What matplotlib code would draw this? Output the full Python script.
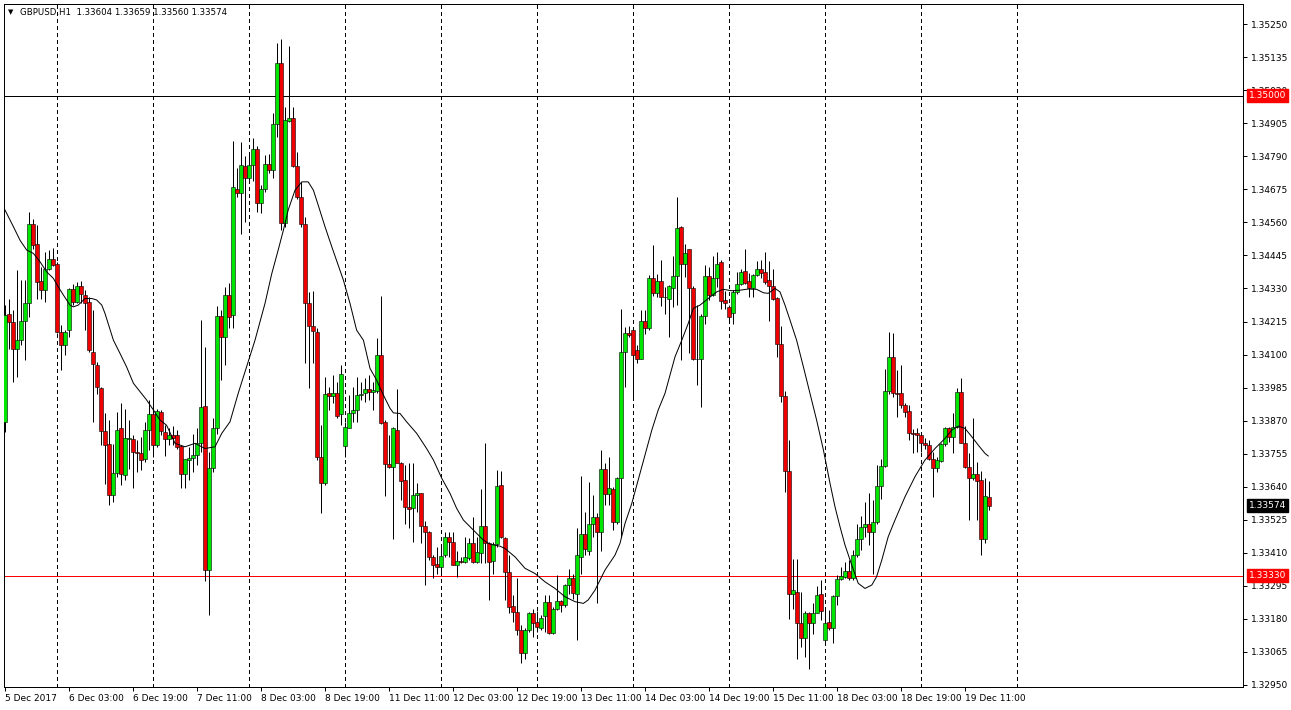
import matplotlib
matplotlib.use('Agg')
import matplotlib.pyplot as plt

# GBPUSD H1 candles (bar 0 = 5 Dec 2017 11:00)
opens = [
    1.33866, 1.34241, 1.34212, 1.34121, 1.34152, 1.34217, 1.34278, 1.34556, 1.34486, 1.34355,
    1.34324, 1.34399, 1.34431, 1.34414, 1.34179, 1.34133, 1.34185, 1.34329, 1.34283, 1.34338,
    1.34307, 1.34283, 1.34109, 1.34063, 1.33985, 1.33835, 1.33790, 1.33611, 1.33688, 1.33843,
    1.33680, 1.33805, 1.33805, 1.33761, 1.33756, 1.33735, 1.33837, 1.33893, 1.33785, 1.33901,
    1.33831, 1.33805, 1.33820, 1.33820, 1.33781, 1.33683, 1.33733, 1.33741, 1.33750, 1.33793,
    1.33920, 1.33350, 1.33704, 1.33843, 1.34234, 1.34160, 1.34307, 1.34237, 1.34675, 1.34661,
    1.34756, 1.34713, 1.34759, 1.34817, 1.34626, 1.34675, 1.34763, 1.34742, 1.34904, 1.35113,
    1.34559, 1.34913, 1.34922, 1.34756, 1.34649, 1.34556, 1.34278, 1.34199, 1.34179, 1.33744,
    1.33654, 1.33965, 1.33956, 1.33965, 1.33893, 1.33783, 1.33846, 1.33898, 1.33907, 1.33959,
    1.33967, 1.33980, 1.33971, 1.33974, 1.34098, 1.33866, 1.33719, 1.33710, 1.33839, 1.33724,
    1.33663, 1.33568, 1.33567, 1.33610, 1.33617, 1.33504, 1.33483, 1.33396, 1.33371, 1.33362,
    1.33402, 1.33466, 1.33449, 1.33369, 1.33380, 1.33379, 1.33391, 1.33445, 1.33379, 1.33410,
    1.33504, 1.33443, 1.33382, 1.33440, 1.33645, 1.33463, 1.33344, 1.33225, 1.33205, 1.33141,
    1.33060, 1.33141, 1.33201, 1.33170, 1.33147, 1.33190, 1.33239, 1.33132, 1.33216, 1.33243,
    1.33228, 1.33297, 1.33321, 1.33268, 1.33396, 1.33477, 1.33417, 1.33510, 1.33535, 1.33483,
    1.33703, 1.33616, 1.33631, 1.33518, 1.33669, 1.34109, 1.34176, 1.34187, 1.34117, 1.34086,
    1.34216, 1.34194, 1.34365, 1.34315, 1.34355, 1.34301, 1.34295, 1.34330, 1.34373, 1.34544,
    1.34415, 1.34466, 1.34333, 1.34086, 1.34083, 1.34234, 1.34373, 1.34307, 1.34365, 1.34423,
    1.34289, 1.34266, 1.34243, 1.34318, 1.34347, 1.34391, 1.34357, 1.34333, 1.34376, 1.34397,
    1.34388, 1.34359, 1.34339, 1.34298, 1.34136, 1.33955, 1.33695, 1.33268, 1.33274, 1.33164,
    1.33115, 1.33201, 1.33164, 1.33201, 1.33268, 1.33106, 1.33170, 1.33150, 1.33260, 1.33318,
    1.33327, 1.33348, 1.33321, 1.33402, 1.33457, 1.33499, 1.33510, 1.33481, 1.33518, 1.33642,
    1.33712, 1.33974, 1.34090, 1.33967, 1.33965, 1.33924, 1.33905, 1.33828, 1.33828, 1.33820,
    1.33793, 1.33785, 1.33735, 1.33704, 1.33730, 1.33789, 1.33843, 1.33812, 1.33847, 1.33971,
    1.33791, 1.33707, 1.33669, 1.33684, 1.33665, 1.33457, 1.33604,
]
highs = [
    1.34272, 1.34295, 1.34254, 1.34394, 1.34359, 1.34359, 1.34597, 1.34573, 1.34550, 1.34405,
    1.34457, 1.34463, 1.34472, 1.34423, 1.34202, 1.34185, 1.34330, 1.34347, 1.34353, 1.34356,
    1.34324, 1.34301, 1.34254, 1.34074, 1.33988, 1.33895, 1.33872, 1.33790, 1.33901, 1.33930,
    1.33912, 1.33872, 1.33819, 1.33802, 1.33814, 1.33866, 1.33941, 1.33982, 1.33912, 1.33906,
    1.33854, 1.33843, 1.33851, 1.33837, 1.33785, 1.33738, 1.33779, 1.33825, 1.33843, 1.34220,
    1.34127, 1.33760, 1.33878, 1.34269, 1.34255, 1.34336, 1.34350, 1.34844, 1.34748, 1.34840,
    1.34791, 1.34802, 1.34852, 1.34825, 1.34690, 1.34794, 1.34798, 1.34939, 1.35185, 1.35197,
    1.34962, 1.35173, 1.34960, 1.34806, 1.34701, 1.34577, 1.34318, 1.34322, 1.34191, 1.33854,
    1.34023, 1.33988, 1.34028, 1.34005, 1.34063, 1.33866, 1.33959, 1.33988, 1.34023, 1.34005,
    1.34017, 1.34029, 1.34005, 1.34156, 1.34304, 1.33872, 1.33820, 1.33849, 1.33979, 1.33727,
    1.33715, 1.33721, 1.33723, 1.33652, 1.33619, 1.33522, 1.33487, 1.33402, 1.33431, 1.33431,
    1.33483, 1.33483, 1.33483, 1.33416, 1.33396, 1.33466, 1.33460, 1.33533, 1.33466, 1.33631,
    1.33793, 1.33449, 1.33449, 1.33698, 1.33695, 1.33466, 1.33402, 1.33263, 1.33321, 1.33158,
    1.33147, 1.33205, 1.33216, 1.33208, 1.33193, 1.33263, 1.33263, 1.33222, 1.33332, 1.33247,
    1.33303, 1.33355, 1.33338, 1.33495, 1.33677, 1.33553, 1.33657, 1.33611, 1.33549, 1.33767,
    1.33721, 1.33742, 1.33640, 1.33674, 1.34260, 1.34196, 1.34199, 1.34191, 1.34133, 1.34254,
    1.34254, 1.34376, 1.34481, 1.34382, 1.34428, 1.34336, 1.34341, 1.34442, 1.34647, 1.34547,
    1.34486, 1.34469, 1.34338, 1.34272, 1.34241, 1.34411, 1.34405, 1.34442, 1.34457, 1.34428,
    1.34322, 1.34272, 1.34324, 1.34388, 1.34396, 1.34466, 1.34384, 1.34382, 1.34426, 1.34428,
    1.34457, 1.34426, 1.34399, 1.34301, 1.34199, 1.33974, 1.33802, 1.33390, 1.33390, 1.33274,
    1.33208, 1.33205, 1.33234, 1.33294, 1.33315, 1.33210, 1.33211, 1.33263, 1.33333, 1.33359,
    1.33379, 1.33385, 1.33420, 1.33512, 1.33538, 1.33588, 1.33619, 1.33594, 1.33715, 1.33735,
    1.34048, 1.34179, 1.34176, 1.34046, 1.34063, 1.33930, 1.33924, 1.33840, 1.33843, 1.33828,
    1.33808, 1.33802, 1.33762, 1.33744, 1.33793, 1.33849, 1.33849, 1.33895, 1.33982, 1.34017,
    1.33851, 1.33758, 1.33878, 1.33727, 1.33696, 1.33669, 1.33659,
]
lows = [
    1.33831, 1.34121, 1.34005, 1.34022, 1.34133, 1.34080, 1.34231, 1.34469, 1.34295, 1.34295,
    1.34283, 1.34394, 1.34407, 1.34176, 1.34046, 1.34098, 1.34162, 1.34272, 1.34278, 1.34280,
    1.34185, 1.34109, 1.33866, 1.33964, 1.33785, 1.33651, 1.33576, 1.33587, 1.33674, 1.33645,
    1.33663, 1.33703, 1.33634, 1.33692, 1.33698, 1.33727, 1.33767, 1.33744, 1.33779, 1.33819,
    1.33746, 1.33785, 1.33785, 1.33773, 1.33637, 1.33637, 1.33663, 1.33692, 1.33715, 1.33762,
    1.33313, 1.33193, 1.33692, 1.33825, 1.34011, 1.34063, 1.34191, 1.34191, 1.34649, 1.34521,
    1.34562, 1.34707, 1.34705, 1.34597, 1.34593, 1.34666, 1.34733, 1.34713, 1.34858, 1.34533,
    1.34545, 1.34910, 1.34753, 1.34643, 1.34545, 1.34069, 1.33985, 1.34069, 1.33733, 1.33547,
    1.33646, 1.33907, 1.33930, 1.33878, 1.33855, 1.33744, 1.33843, 1.33866, 1.33866, 1.33942,
    1.33936, 1.33942, 1.33907, 1.33967, 1.33860, 1.33608, 1.33704, 1.33457, 1.33721, 1.33594,
    1.33512, 1.33495, 1.33449, 1.33553, 1.33443, 1.33298, 1.33385, 1.33321, 1.33336, 1.33344,
    1.33394, 1.33394, 1.33367, 1.33327, 1.33373, 1.33373, 1.33385, 1.33373, 1.33373, 1.33373,
    1.33373, 1.33246, 1.33338, 1.33431, 1.33460, 1.33245, 1.33199, 1.33170, 1.33123, 1.33025,
    1.33042, 1.33135, 1.33118, 1.33135, 1.33141, 1.33135, 1.33129, 1.33127, 1.33210, 1.33205,
    1.33222, 1.33268, 1.33251, 1.33106, 1.33338, 1.33402, 1.33402, 1.33466, 1.33234, 1.33417,
    1.33576, 1.33576, 1.33489, 1.33512, 1.33466, 1.33988, 1.34162, 1.33953, 1.34069, 1.34086,
    1.34171, 1.34185, 1.34303, 1.34301, 1.34268, 1.34241, 1.34162, 1.34264, 1.34272, 1.34080,
    1.34370, 1.34104, 1.34080, 1.33993, 1.33916, 1.34208, 1.34289, 1.34303, 1.34336, 1.34260,
    1.34260, 1.34220, 1.34206, 1.34312, 1.34341, 1.34345, 1.34299, 1.34299, 1.34373, 1.34368,
    1.34345, 1.34217, 1.34291, 1.34092, 1.33935, 1.33622, 1.33178, 1.33213, 1.33042, 1.33083,
    1.33048, 1.33007, 1.33129, 1.33199, 1.33176, 1.33100, 1.33141, 1.33095, 1.33228, 1.33315,
    1.33321, 1.33317, 1.33315, 1.33396, 1.33420, 1.33466, 1.33437, 1.33336, 1.33510, 1.33599,
    1.33710, 1.33963, 1.33951, 1.33884, 1.33913, 1.33884, 1.33802, 1.33756, 1.33762, 1.33762,
    1.33773, 1.33733, 1.33605, 1.33692, 1.33727, 1.33782, 1.33797, 1.33756, 1.33843, 1.33793,
    1.33704, 1.33524, 1.33663, 1.33524, 1.33402, 1.33443, 1.33560,
]
closes = [
    1.34237, 1.34212, 1.34121, 1.34152, 1.34217, 1.34278, 1.34556, 1.34481, 1.34353, 1.34324,
    1.34396, 1.34431, 1.34411, 1.34177, 1.34133, 1.34179, 1.34329, 1.34283, 1.34338, 1.34310,
    1.34280, 1.34115, 1.34067, 1.33988, 1.33835, 1.33785, 1.33611, 1.33688, 1.33839, 1.33686,
    1.33808, 1.33808, 1.33761, 1.33756, 1.33732, 1.33837, 1.33893, 1.33785, 1.33904, 1.33835,
    1.33805, 1.33820, 1.33811, 1.33779, 1.33683, 1.33735, 1.33741, 1.33750, 1.33793, 1.33918,
    1.33350, 1.33705, 1.33843, 1.34234, 1.34160, 1.34307, 1.34229, 1.34684, 1.34661, 1.34759,
    1.34713, 1.34759, 1.34817, 1.34626, 1.34675, 1.34763, 1.34742, 1.34904, 1.35113, 1.34559,
    1.34916, 1.34922, 1.34756, 1.34649, 1.34556, 1.34280, 1.34199, 1.34183, 1.33744, 1.33654,
    1.33962, 1.33956, 1.33965, 1.33886, 1.34032, 1.33849, 1.33895, 1.33907, 1.33959, 1.33963,
    1.33980, 1.33971, 1.33976, 1.34098, 1.33863, 1.33718, 1.33710, 1.33843, 1.33724, 1.33661,
    1.33568, 1.33563, 1.33611, 1.33619, 1.33504, 1.33483, 1.33394, 1.33367, 1.33362, 1.33399,
    1.33466, 1.33449, 1.33367, 1.33381, 1.33379, 1.33394, 1.33445, 1.33379, 1.33414, 1.33504,
    1.33445, 1.33379, 1.33440, 1.33644, 1.33466, 1.33344, 1.33220, 1.33205, 1.33141, 1.33060,
    1.33141, 1.33201, 1.33166, 1.33152, 1.33184, 1.33239, 1.33132, 1.33216, 1.33243, 1.33228,
    1.33297, 1.33321, 1.33271, 1.33402, 1.33477, 1.33422, 1.33510, 1.33535, 1.33483, 1.33703,
    1.33616, 1.33634, 1.33518, 1.33669, 1.34109, 1.34176, 1.34167, 1.34098, 1.34086, 1.34216,
    1.34194, 1.34368, 1.34315, 1.34355, 1.34299, 1.34299, 1.34338, 1.34373, 1.34539, 1.34415,
    1.34454, 1.34333, 1.34086, 1.34083, 1.34234, 1.34373, 1.34307, 1.34365, 1.34415, 1.34287,
    1.34280, 1.34231, 1.34318, 1.34347, 1.34388, 1.34350, 1.34333, 1.34376, 1.34397, 1.34384,
    1.34353, 1.34339, 1.34295, 1.34136, 1.33955, 1.33695, 1.33268, 1.33282, 1.33164, 1.33115,
    1.33199, 1.33164, 1.33201, 1.33263, 1.33208, 1.33166, 1.33150, 1.33260, 1.33318, 1.33329,
    1.33348, 1.33321, 1.33402, 1.33457, 1.33499, 1.33510, 1.33481, 1.33518, 1.33642, 1.33712,
    1.33974, 1.34090, 1.33965, 1.33963, 1.33924, 1.33901, 1.33828, 1.33823, 1.33820, 1.33793,
    1.33785, 1.33735, 1.33704, 1.33733, 1.33789, 1.33843, 1.33812, 1.33847, 1.33971, 1.33793,
    1.33707, 1.33672, 1.33684, 1.33661, 1.33457, 1.33608, 1.33574,
]

# moving average line, read at bar positions
ma_pos = [
    0, 2.1, 3.75, 5.4, 7.1, 8.75, 10.4, 12.1, 13.3, 14.6, 16.25, 17.1, 18.3, 20, 21.7, 22.9,
    24.2, 25, 25.8, 27.1, 28.75, 30.4, 32.1, 33.75, 35.4, 37.1, 38.75, 40.4,
    42.5, 45, 47.5, 50, 52.5, 54.2, 56.25, 58.3, 60.4, 62.5, 65, 66.7, 68.3, 69.6, 70.8,
    72.5, 74.2, 75.8, 77.1, 78.3, 80, 81.7,
    84.6, 86.25, 87.9, 89.6, 91.25, 92.9, 94.6, 96.25, 97.1, 98.75, 100.4, 102.9, 105.4,
    107.1, 109.2, 111.25, 112.9, 114.6, 117.1, 119.6, 121.25, 123.75,
    125, 127.5, 130, 132.5, 135, 137.5, 140, 142.5, 144.6, 145.8, 147.5, 150, 152.5, 153.75,
    155, 156.7, 159.2, 161.7, 163.3, 165,
    167.5, 169.2, 170.8, 172.1, 173.75, 175.8, 177.9, 179.6, 181.7, 183.75, 185.8, 187.9,
    189.6, 190.8, 192.5, 193.75, 195, 196.25, 197.9, 199.6, 201.25, 202.9, 204.6,
    206.25, 207.5, 208.75, 210, 211.7, 213.3, 215, 216.7, 217.9, 219.2, 220.8, 222.5, 225,
    227.5, 230, 232.5, 235, 236.7, 238.3, 240, 241.7, 243.3, 245, 245.8,
]
ma_val = [
    1.34603, 1.34545, 1.34498, 1.34464, 1.34452, 1.34423, 1.34388, 1.34365, 1.34336, 1.34307,
    1.34272, 1.34266, 1.34272, 1.34295, 1.34295, 1.34290, 1.34272, 1.34243, 1.34208, 1.34150,
    1.34104, 1.34057, 1.34000, 1.33971, 1.33942, 1.33907, 1.33872, 1.33854,
    1.33791, 1.33779, 1.33791, 1.33773, 1.33779, 1.33826, 1.33866, 1.33965, 1.34057, 1.34150,
    1.34278, 1.34382, 1.34464, 1.34533, 1.34603, 1.34672, 1.34701, 1.34701, 1.34672, 1.34620,
    1.34545, 1.34475,
    1.34359, 1.34278, 1.34185, 1.34150, 1.34052, 1.34011, 1.33959, 1.33913, 1.33897, 1.33895,
    1.33866, 1.33826, 1.33773, 1.33733, 1.33669, 1.33617, 1.33565, 1.33524, 1.33489, 1.33454,
    1.33440, 1.33433,
    1.33425, 1.33396, 1.33356, 1.33338, 1.33309, 1.33286, 1.33257, 1.33240, 1.33234, 1.33246,
    1.33280, 1.33350, 1.33402, 1.33443, 1.33512, 1.33582, 1.33709, 1.33837, 1.33907, 1.33965,
    1.34092, 1.34150, 1.34208, 1.34261, 1.34272, 1.34295, 1.34318, 1.34327, 1.34322, 1.34324,
    1.34328, 1.34327, 1.34315, 1.34313, 1.34330, 1.34318, 1.34272, 1.34220, 1.34150, 1.34057,
    1.33965, 1.33872, 1.33768,
    1.33652, 1.33570, 1.33501, 1.33437, 1.33367, 1.33304, 1.33286, 1.33298, 1.33327, 1.33385,
    1.33466, 1.33524, 1.33605, 1.33675, 1.33733, 1.33773, 1.33808, 1.33837, 1.33851, 1.33843,
    1.33814, 1.33785, 1.33756, 1.33747,
]

time_labels = ['5 Dec 2017', '6 Dec 03:00', '6 Dec 19:00', '7 Dec 11:00', '8 Dec 03:00',
               '8 Dec 19:00', '11 Dec 11:00', '12 Dec 03:00', '12 Dec 19:00', '13 Dec 11:00',
               '14 Dec 03:00', '14 Dec 19:00', '15 Dec 11:00', '18 Dec 03:00', '18 Dec 19:00',
               '19 Dec 11:00']
price_levels = [1.35250, 1.35135, 1.35020, 1.34905, 1.34790, 1.34675, 1.34560, 1.34445,
                1.34330, 1.34215, 1.34100, 1.33985, 1.33870, 1.33755, 1.33640, 1.33525,
                1.33410, 1.33295, 1.33180, 1.33065, 1.32950]
level_black = 1.35000
level_red = 1.33330
last_price = 1.33574

W, H = 1291, 710
PX = 72 / 100  # one pixel in points

fig = plt.figure(figsize=(W / 100, H / 100), dpi=100)
ax = fig.add_axes([4 / W, 23 / H, 1239 / W, 683 / H])
ax.set_xlim(-0.25, 309.5)
ax.set_ylim(1.32943, 1.35320)

n = len(opens)
xs = list(range(n))

# vertical dashed grid, every 24 bars
for gx in range(13, n + 10, 24):
    ax.axvline(gx, color='black', lw=PX, ls=(0, (3, 3)), antialiased=False, zorder=1)

ax.axhline(level_black, color='black', lw=PX, antialiased=False, zorder=1)
ax.axhline(level_red, color='red', lw=PX, antialiased=False, zorder=1)

# wicks then bodies
ax.vlines(xs, lows, highs, color='black', lw=PX, zorder=2)
colors = ['#00e600' if c >= o else '#ee0000' for o, c in zip(opens, closes)]
bottoms = [min(o, c) for o, c in zip(opens, closes)]
heights = [max(abs(c - o), 0.00003) for o, c in zip(opens, closes)]
ax.bar(xs, heights, bottom=bottoms, width=0.78, color=colors, edgecolor='black',
       linewidth=0.55 * PX, zorder=3)

ax.plot(ma_pos, ma_val, color='black', lw=PX, zorder=4)

# axes styling
for sp in ax.spines.values():
    sp.set_linewidth(PX)
    sp.set_color('black')

ax.yaxis.tick_right()
ax.set_yticks(price_levels)
ax.set_yticklabels(['%.5f' % v for v in price_levels])
ax.set_xticks(list(range(0, 16 * len(time_labels), 16)))
ax.set_xticklabels(time_labels, ha='left')
ax.tick_params(axis='y', direction='out', length=4 * PX, width=PX, labelsize=6.5, pad=3)
ax.tick_params(axis='x', direction='out', length=4 * PX, width=PX, labelsize=6.5, pad=2)

# price boxes on the right scale
box_x = (1249 - 4) / 1239
for val, bg in [(level_black, '#ff0000'), (level_red, '#ff0000'), (last_price, '#000000')]:
    ax.text(box_x, val, '%.5f' % val, transform=ax.get_yaxis_transform(), fontsize=6.5,
            color='white', va='center', ha='left', clip_on=False, zorder=10,
            bbox=dict(boxstyle='square,pad=0.22', fc=bg, ec=bg))

# header line
fig.text(8 / W, 1 - 12 / H, '\u25bc', fontsize=5, va='center', ha='left')
fig.text(20 / W, 1 - 12 / H, 'GBPUSD,H1  1.33604 1.33659 1.33560 1.33574', fontsize=6.2,
         va='center', ha='left')

fig.savefig('out.png', dpi=100)
